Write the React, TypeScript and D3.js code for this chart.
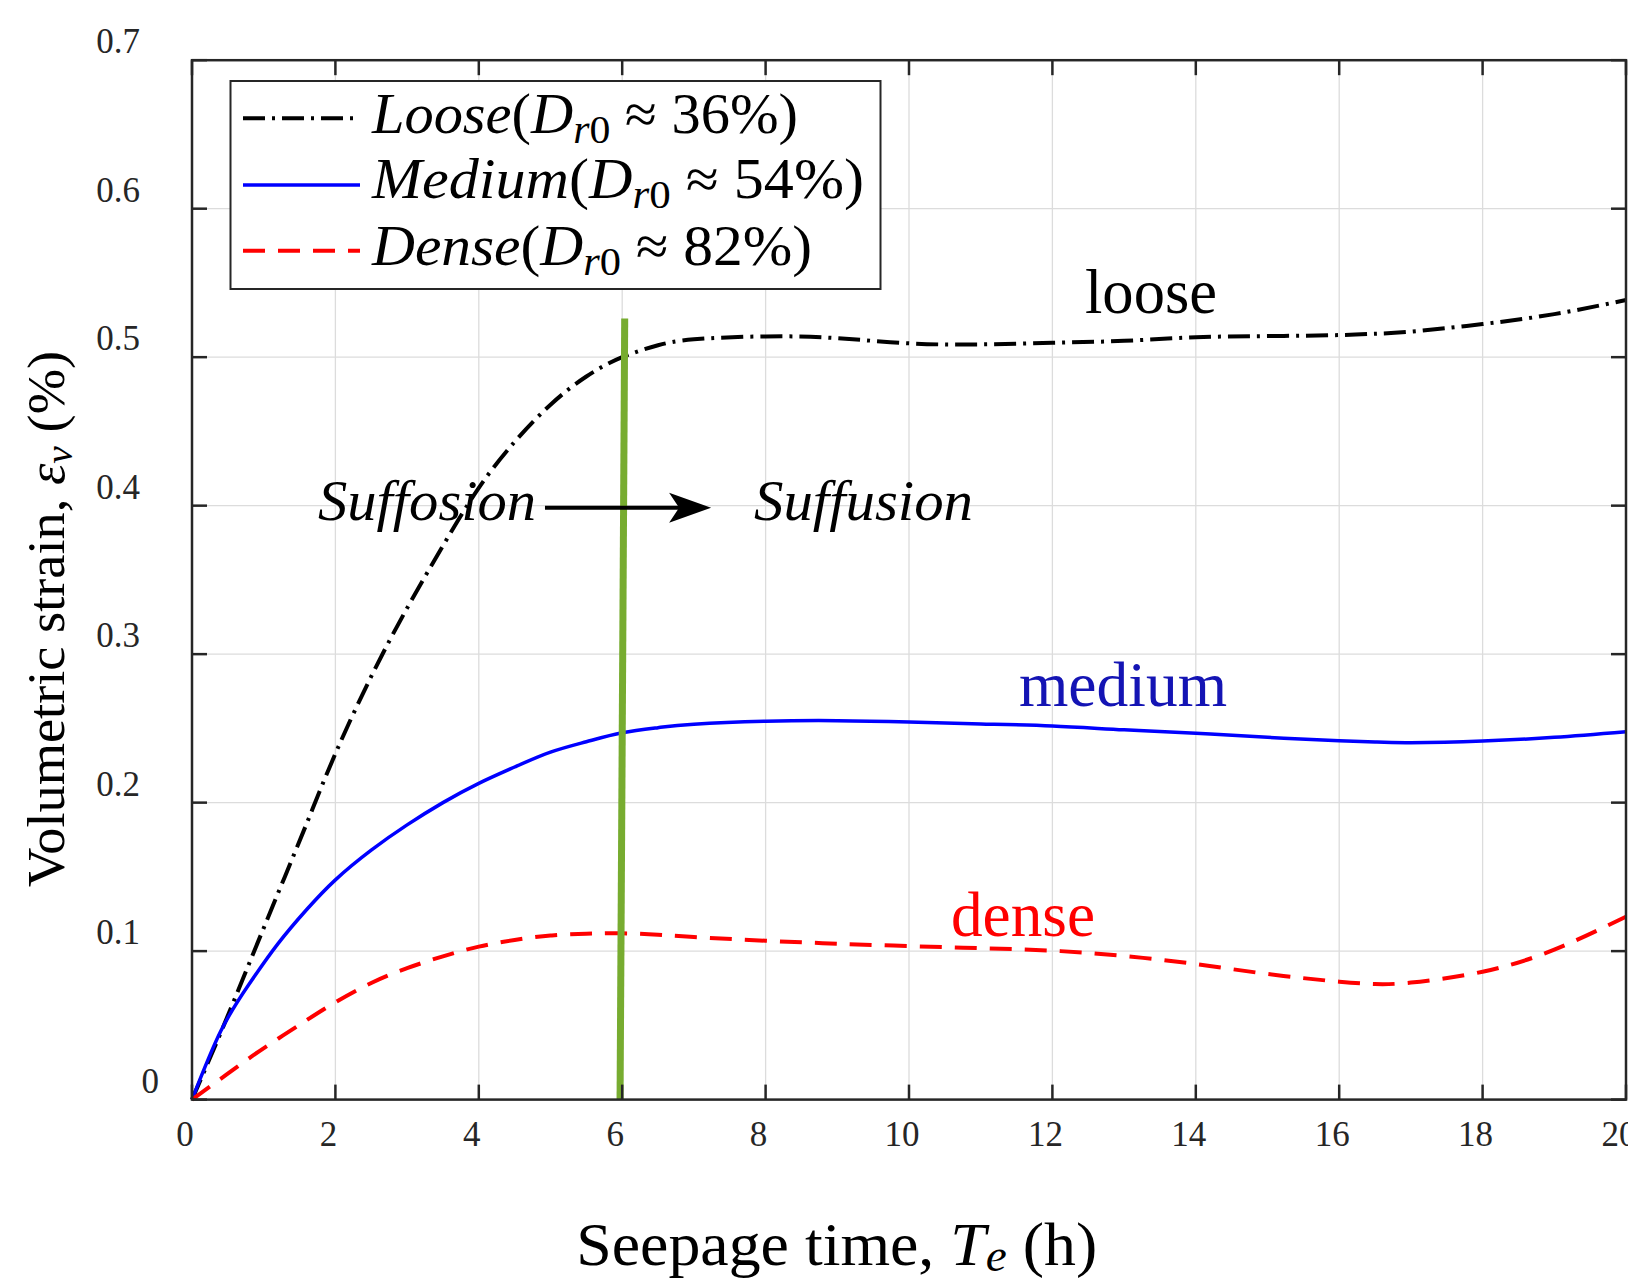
import React from "react";
import * as d3 from "d3";

// ---------- data ----------
const timeH = [0, 0.4, 0.8, 1.2, 1.6, 2, 2.5, 3, 3.5, 4, 4.5, 5, 5.5, 6, 6.5, 7, 8, 9, 10, 11, 12, 13, 14, 15, 16, 16.5, 17, 18, 19, 20];
const looseStrain = [0, 0.045, 0.092, 0.139, 0.186, 0.233, 0.285, 0.331, 0.373, 0.412, 0.443, 0.468, 0.487, 0.5, 0.508, 0.512, 0.514, 0.5128, 0.5093, 0.5086, 0.5097, 0.511, 0.5134, 0.5142, 0.5149, 0.5158, 0.5172, 0.5223, 0.529, 0.5385];
const mediumStrain = [0, 0.046, 0.078, 0.105, 0.128, 0.148, 0.168, 0.185, 0.2, 0.213, 0.224, 0.234, 0.241, 0.247, 0.2505, 0.2528, 0.2548, 0.2552, 0.2543, 0.253, 0.2516, 0.249, 0.2467, 0.244, 0.2417, 0.2408, 0.2404, 0.2415, 0.244, 0.2478];
const denseStrain = [0, 0.014, 0.028, 0.041, 0.0535, 0.0655, 0.0785, 0.0885, 0.0965, 0.103, 0.1075, 0.1105, 0.1117, 0.112, 0.111, 0.1095, 0.107, 0.105, 0.1034, 0.102, 0.1003, 0.0967, 0.0913, 0.0846, 0.0794, 0.0778, 0.0788, 0.0861, 0.101, 0.1232];

const xTicks = [0, 2, 4, 6, 8, 10, 12, 14, 16, 18, 20];
const yTicks = [0, 0.1, 0.2, 0.3, 0.4, 0.5, 0.6, 0.7];
const xTickLabels = ["0", "2", "4", "6", "8", "10", "12", "14", "16", "18", "20"];
const yTickLabels = ["0", "0.1", "0.2", "0.3", "0.4", "0.5", "0.6", "0.7"];

// transition marker (green line) and arrow, in data units
const boundaryX = [5.97, 6.035];
const boundaryY = [0, 0.526];
const arrowX = [4.923, 7.24];
const arrowY = 0.3986;

const W = 1628;
const H = 1283;
const AX = "#262626";
const SERIF = "Liberation Serif";

export default function App() {
  const x = d3.scaleLinear().domain([0, 20]).range([192, 1626]);
  const y = d3.scaleLinear().domain([0, 0.7]).range([1099.6, 60.2]);

  const mk = (vals: number[]) =>
    d3
      .line<number>()
      .x((_, i) => x(timeH[i]))
      .y((v) => y(v))
      .curve(d3.curveNatural)(vals) as string;

  const looseDash = "22,7,3,7";
  const denseDash = "22,13";

  const x0 = x(0), x1 = x(20), y0 = y(0), y1 = y(0.7);
  const tickLen = 15;

  const ax1 = x(arrowX[0]);
  const ax2 = x(arrowX[1]);
  const ay = y(arrowY);

  const legendRows = [
    { name: "Loose", pct: "36%", yb: 132.7, len: 426, color: "#000", dash: looseDash, w: 4, ly: 118.3 },
    { name: "Medium", pct: "54%", yb: 198.3, len: 492, color: "#0000ff", dash: undefined, w: 3.5, ly: 185 },
    { name: "Dense", pct: "82%", yb: 265, len: 440, color: "#ff0000", dash: denseDash, w: 4, ly: 250.7 },
  ];

  return (
    <svg
      width={W}
      height={H}
      viewBox={`0 0 ${W} ${H}`}
      style={{ position: "absolute", left: 0, top: 0, background: "#fff" }}
    >
      <rect x={0} y={0} width={W} height={H} fill="#fff" />
      {/* grid */}
      <g stroke="#dcdcdc" strokeWidth={1.3}>
        {xTicks.slice(1, -1).map((t) => (
          <line key={"gx" + t} x1={x(t)} x2={x(t)} y1={y0} y2={y1} />
        ))}
        {yTicks.slice(1, -1).map((t) => (
          <line key={"gy" + t} x1={x0} x2={x1} y1={y(t)} y2={y(t)} />
        ))}
      </g>

      {/* curves */}
      <path d={mk(looseStrain)} fill="none" stroke="#000" strokeWidth={4} strokeDasharray={looseDash} />
      <path d={mk(mediumStrain)} fill="none" stroke="#0000ff" strokeWidth={3.5} />
      <path d={mk(denseStrain)} fill="none" stroke="#ff0000" strokeWidth={4} strokeDasharray={denseDash} />

      {/* boundary line */}
      <line
        x1={x(boundaryX[0])}
        y1={y(boundaryY[0])}
        x2={x(boundaryX[1])}
        y2={y(boundaryY[1])}
        stroke="#77ac30"
        strokeWidth={7}
      />

      {/* axes box and ticks */}
      <g stroke={AX} strokeWidth={2.5} fill="none">
        <rect x={x0} y={y1} width={x1 - x0} height={y0 - y1} />
        {xTicks.map((t) => (
          <g key={"xt" + t}>
            <line x1={x(t)} x2={x(t)} y1={y0} y2={y0 - tickLen} />
            <line x1={x(t)} x2={x(t)} y1={y1} y2={y1 + tickLen} />
          </g>
        ))}
        {yTicks.map((t) => (
          <g key={"yt" + t}>
            <line x1={x0} x2={x0 + tickLen} y1={y(t)} y2={y(t)} />
            <line x1={x1} x2={x1 - tickLen} y1={y(t)} y2={y(t)} />
          </g>
        ))}
      </g>

      {/* tick labels */}
      <g fill={AX} fontSize={35} fontFamily={SERIF}>
        {xTicks.map((t, i) => (
          <text key={"xl" + t} x={x(t) - 7} y={1146} textAnchor="middle" fontFamily={SERIF}>
            {xTickLabels[i]}
          </text>
        ))}
        {yTicks.map((t, i) => (
          <text key={"yl" + t} x={t === 0 ? 159 : 140} y={y(t) - 7} textAnchor="end" fontFamily={SERIF}>
            {yTickLabels[i]}
          </text>
        ))}
      </g>

      {/* axis titles */}
      <text x={836.75} y={1265} textAnchor="middle" fontSize={62} fill="#000" fontFamily={SERIF} textLength={521} lengthAdjust="spacingAndGlyphs">
        <tspan fontFamily={SERIF}>Seepage time, </tspan>
        <tspan fontFamily={SERIF} fontStyle="italic">T</tspan>
        <tspan fontFamily={SERIF} fontStyle="italic" fontSize={46} dy={6}>e</tspan>
        <tspan fontFamily={SERIF} dy={-6}> (h)</tspan>
      </text>
      <text
        transform={`translate(64, 619) rotate(-90)`}
        x={0}
        y={0}
        textAnchor="middle"
        fontSize={52}
        fill="#000"
        fontFamily={SERIF}
        textLength={536}
        lengthAdjust="spacingAndGlyphs"
      >
        <tspan fontFamily={SERIF}>Volumetric strain, </tspan>
        <tspan fontFamily={SERIF} fontStyle="italic">ε</tspan>
        <tspan fontFamily={SERIF} fontStyle="italic" fontSize={38} dy={8}>v</tspan>
        <tspan fontFamily={SERIF} dy={-8}> (%)</tspan>
      </text>

      {/* legend */}
      <g>
        <rect x={230.5} y={81} width={650} height={208} fill="#fff" stroke={AX} strokeWidth={2} />
        {legendRows.map((e) => (
          <g key={e.name}>
            <line x1={243} x2={360} y1={e.ly} y2={e.ly} stroke={e.color} strokeWidth={e.w} strokeDasharray={e.dash} />
            <text x={372} y={e.yb} fontSize={56} fill="#000" fontFamily={SERIF} textLength={e.len} lengthAdjust="spacingAndGlyphs">
              <tspan fontFamily={SERIF} fontStyle="italic">{e.name}</tspan>
              <tspan fontFamily={SERIF}>(</tspan>
              <tspan fontFamily={SERIF} fontStyle="italic">D</tspan>
              <tspan fontFamily={SERIF} fontStyle="italic" fontSize={40} dy={10}>r</tspan>
              <tspan fontFamily={SERIF} fontSize={40}>0</tspan>
              <tspan fontFamily={SERIF} dy={-10}>{" ≈ " + e.pct + ")"}</tspan>
            </text>
          </g>
        ))}
      </g>

      {/* annotations */}
      <text x={1085} y={313} fontSize={63} fill="#000" fontFamily={SERIF} textLength={132} lengthAdjust="spacingAndGlyphs">loose</text>
      <text x={1019} y={706} fontSize={63} fill="#1414b4" fontFamily={SERIF} textLength={208} lengthAdjust="spacingAndGlyphs">medium</text>
      <text x={951} y={936} fontSize={63} fill="#ff0000" fontFamily={SERIF} textLength={144} lengthAdjust="spacingAndGlyphs">dense</text>

      <text x={318} y={520} fontSize={56} fontStyle="italic" fill="#000" fontFamily={SERIF} textLength={218} lengthAdjust="spacingAndGlyphs">Suffosion</text>
      <text x={754} y={520} fontSize={56} fontStyle="italic" fill="#000" fontFamily={SERIF} textLength={219} lengthAdjust="spacingAndGlyphs">Suffusion</text>
      <line x1={ax1} x2={ax2 - 20} y1={ay} y2={ay} stroke="#000" strokeWidth={4} />
      <path
        d={`M${ax2},${ay} L${ax2 - 42},${ay - 15} L${ax2 - 32},${ay} L${ax2 - 42},${ay + 15} Z`}
        fill="#000"
      />
    </svg>
  );
}
